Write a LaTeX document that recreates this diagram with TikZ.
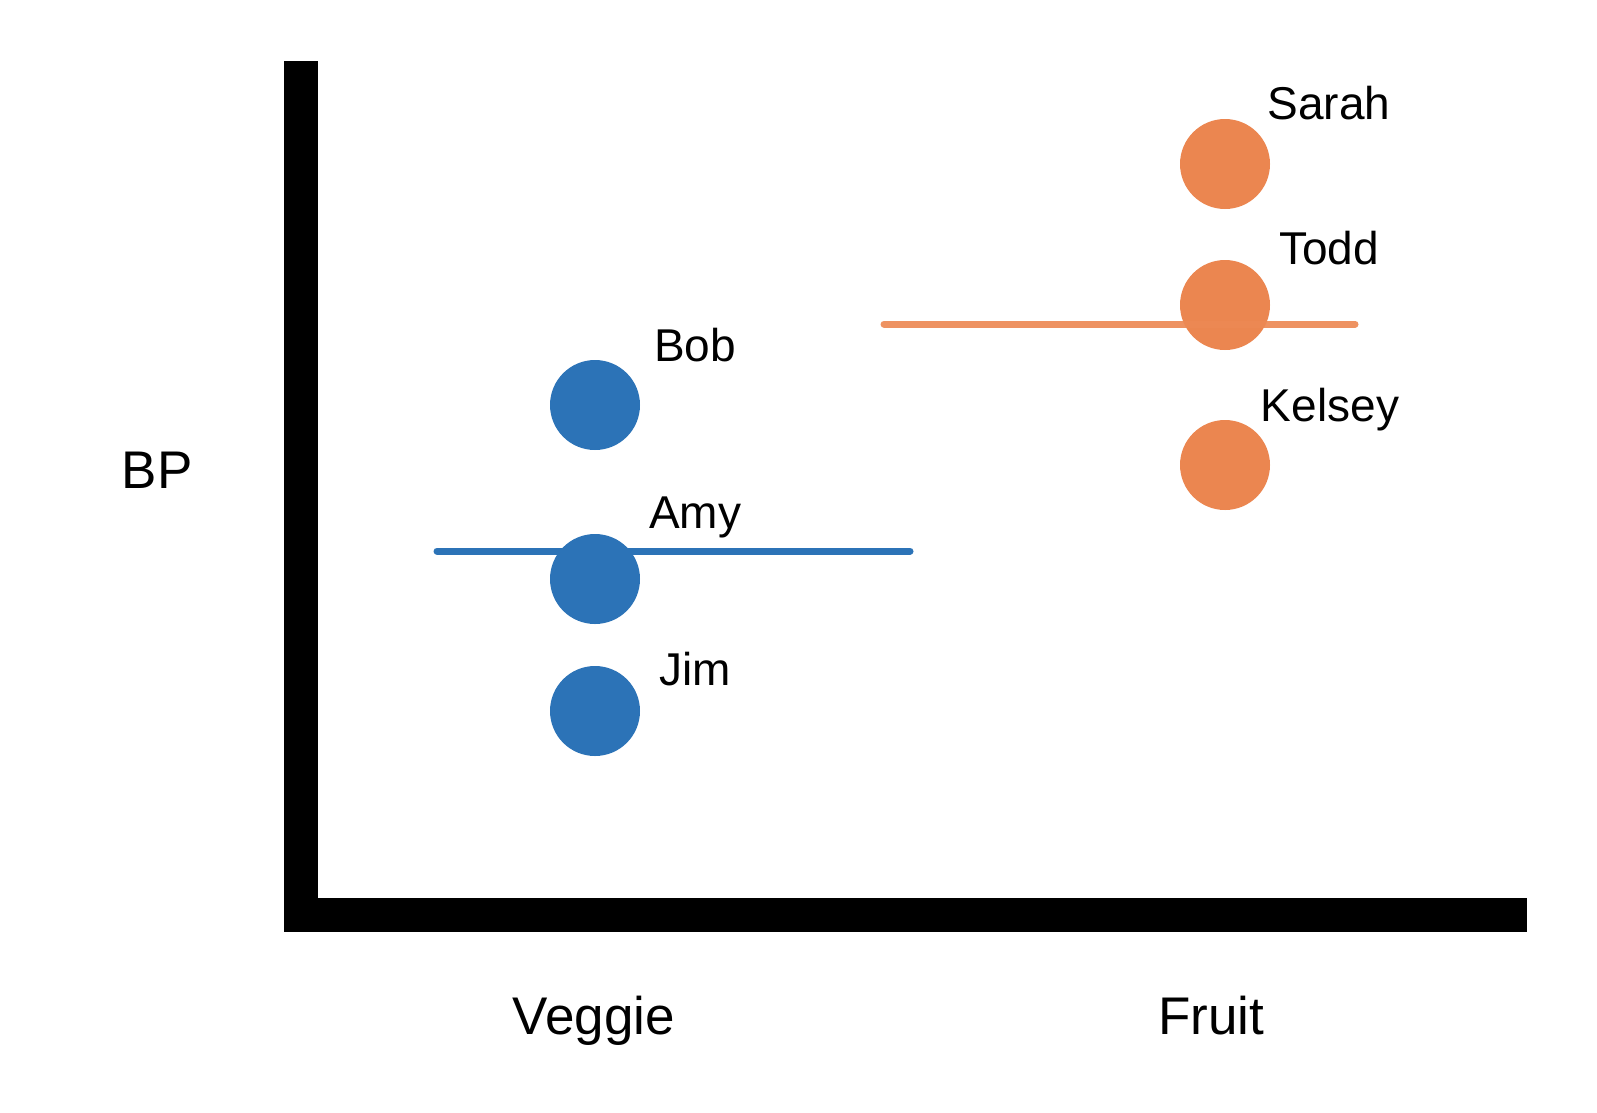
\documentclass[tikz,border=0pt]{standalone}
\usepackage{fontspec}
\setmainfont{Liberation Sans}
\definecolor{vblue}{RGB}{44,115,183}
\definecolor{forange}{RGB}{235,134,80}
\definecolor{flineorange}{RGB}{237,137,84}
\begin{document}
\begin{tikzpicture}[x=1pt,y=-1pt,
  dot/.style={circle,inner sep=0pt,minimum size=90pt,draw=none},
  vdot/.style={dot,fill=vblue},
  fdot/.style={dot,fill=forange},
  pname/.style={anchor=base,inner sep=0pt,font=\fontsize{46}{46}\selectfont},
  axislabel/.style={anchor=base,inner sep=0pt,font=\fontsize{53}{53}\selectfont},
  meanline/.style={line width=7pt,line cap=round}]
\useasboundingbox (0,0) rectangle (1597,1112);
% axes
\fill[black] (284,61) rectangle (318,932);
\fill[black] (284,898) rectangle (1527,932);
% labels
\node[axislabel] (bp) at (157,488) {BP};
\node[axislabel] (veg) at (594,1034) {Veggie};
\node[axislabel] (fru) at (1211,1034) {Fruit};
% veggie group
\coordinate (vl) at (437,551);
\coordinate (vr) at (910,551);
\draw[meanline,vblue] (vl) -- (vr);
\node[vdot] (bob) at (595,405) {};
\node[vdot] (amy) at (595,579) {};
\node[vdot] (jim) at (595,711) {};
\node[pname] (tbob) at (695,361) {Bob};
\node[pname] (tamy) at (695,528) {Amy};
\node[pname] (tjim) at (695,685) {Jim};
% fruit group
\node[fdot] (sarah) at (1225,164) {};
\node[fdot] (todd) at (1225,305) {};
\node[fdot] (kelsey) at (1225,465) {};
\coordinate (fl) at (884,324);
\coordinate (fr) at (1355,324);
\draw[meanline,flineorange,opacity=0.92] (fl) -- (fr);
\node[pname] (tsarah) at (1329,119) {Sarah};
\node[pname] (ttodd) at (1329,264) {Todd};
\node[pname] (tkelsey) at (1330,421) {Kelsey};
\end{tikzpicture}
\end{document}
